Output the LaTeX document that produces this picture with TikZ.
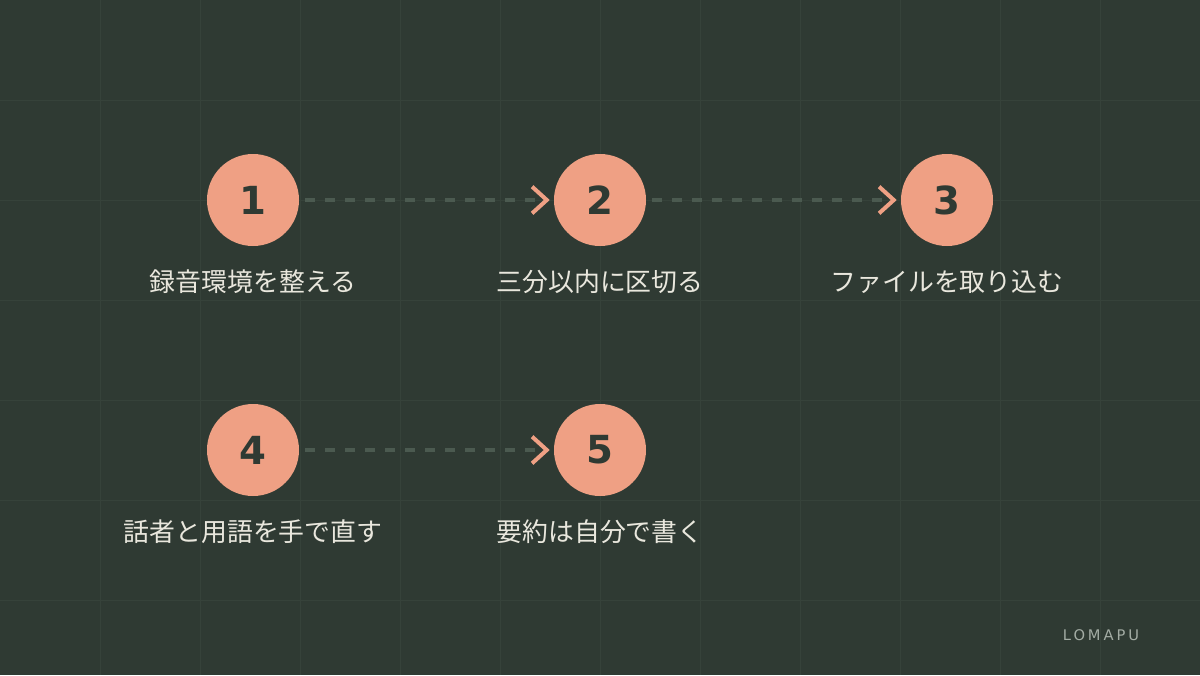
\documentclass[tikz,border=0pt]{standalone}
\usepackage{fontspec}
\setmainfont{DejaVu Sans}
\newfontfamily\jpfont{Noto Sans CJK JP}
\usetikzlibrary{arrows.meta,positioning}
\definecolor{bgcol}{HTML}{2F3A33}
\definecolor{gridcol}{HTML}{36423A}
\definecolor{dashcol}{HTML}{4B5A50}
\definecolor{salmon}{HTML}{EFA084}
\definecolor{labelcol}{HTML}{E9E7DD}
\definecolor{brandcol}{HTML}{A3ACA4}
\tikzset{node distance=260.25pt, on grid,
stepdot/.style={circle, fill=salmon, minimum size=69pt, inner sep=0pt,
  text=bgcol, font=\bfseries\fontsize{29}{29}\selectfont},
steplabel/.style={text=labelcol, font=\jpfont\fontsize{19.4}{19.4}\selectfont},
flow/.style={draw=dashcol, line width=3pt, dash pattern=on 7.5pt off 7.5pt,
  shorten <=4.5pt, shorten >=3pt,
  -{Straight Barb[color=salmon, length=11pt, width=20pt, line width=3pt]}}}

\begin{document}
\begin{tikzpicture}

    % Background and grid
    \fill[bgcol] (0,0) rectangle (900pt,-506.25pt);
    \useasboundingbox (0,0) rectangle (900pt,-506.25pt);
    \foreach \gx in {1,...,11}
      \draw[gridcol, line width=0.75pt] (\gx*75pt,0) -- (\gx*75pt,-506.25pt);
    \foreach \gy in {1,...,6}
      \draw[gridcol, line width=0.75pt] (0,-\gy*75pt) -- (900pt,-\gy*75pt);

    % Nodes
    \node[stepdot] (s1) at (189.75pt,-150pt) {1};
    \node[stepdot, right=of s1] (s2) {2};
    \node[stepdot, right=of s2] (s3) {3};
    \node[stepdot, below=187.5pt of s1] (s4) {4};
    \node[stepdot, right=of s4] (s5) {5};

    % Labels
    \node[steplabel, below=61.5pt of s1] (l1) {録音環境を整える};
    \node[steplabel, below=61.5pt of s2] (l2) {三分以内に区切る};
    \node[steplabel, below=61.5pt of s3] (l3) {ファイルを取り込む};
    \node[steplabel, below=61.5pt of s4] (l4) {話者と用語を手で直す};
    \node[steplabel, below=61.5pt of s5] (l5) {要約は自分で書く};

    \node[text=brandcol, font=\addfontfeatures{LetterSpace=20}\fontsize{11}{11}\selectfont]
      (brand) at (825.75pt,-476.5pt) {LOMAPU};

    % Edges
    \path (s1) edge[flow] (s2)
          (s2) edge[flow] (s3)
          (s4) edge[flow] (s5);
  \end{tikzpicture}
\end{document}
